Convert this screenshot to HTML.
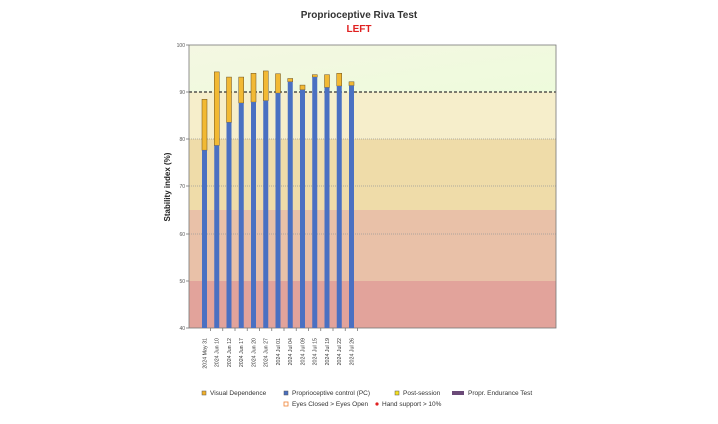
<!DOCTYPE html>
<html><head><meta charset="utf-8"><style>
body{margin:0;background:#fff;width:718px;height:419px;overflow:hidden;font-family:"Liberation Sans",sans-serif;}
</style></head><body>
<svg width="718" height="419" viewBox="0 0 718 419" xmlns="http://www.w3.org/2000/svg" font-family="Liberation Sans, sans-serif">
<defs>
<linearGradient id="g1" x1="0" y1="0" x2="1" y2="1"><stop offset="0" stop-color="#f4f7e2"/><stop offset="1" stop-color="#eefbdc"/></linearGradient>
</defs>
<text x="359" y="18" text-anchor="middle" font-size="10" font-weight="bold" fill="#333">Proprioceptive Riva Test</text>
<text x="359" y="32" text-anchor="middle" font-size="10" font-weight="bold" fill="#e02020">LEFT</text>
<rect x="189" y="45" width="367" height="47" fill="url(#g1)"/>
<rect x="189" y="92" width="367" height="47" fill="#f6eecb"/>
<rect x="189" y="139" width="367" height="71" fill="#efdca9"/>
<rect x="189" y="210" width="367" height="71" fill="#e9c1a8"/>
<rect x="189" y="281" width="367" height="47" fill="#e2a39b"/>
<g stroke="#999" stroke-width="0.8" stroke-dasharray="1,1">
<line x1="189" y1="139" x2="556" y2="139"/><line x1="189" y1="186" x2="556" y2="186"/><line x1="189" y1="234" x2="556" y2="234"/>
</g>
<line x1="189" y1="92" x2="556" y2="92" stroke="#333" stroke-width="1.2" stroke-dasharray="3,2"/>
<rect x="189" y="45" width="367" height="283" fill="none" stroke="#777" stroke-width="0.8"/>
<g font-size="5" fill="#555" text-anchor="end">
<text x="185" y="47">100</text><text x="185" y="94">90</text><text x="185" y="141">80</text><text x="185" y="188">70</text><text x="185" y="236">60</text><text x="185" y="283">50</text><text x="185" y="330">40</text>
</g>
<g stroke="#777" stroke-width="0.8">
<line x1="186" y1="45" x2="189" y2="45"/><line x1="186" y1="92" x2="189" y2="92"/><line x1="186" y1="139" x2="189" y2="139"/><line x1="186" y1="186" x2="189" y2="186"/><line x1="186" y1="234" x2="189" y2="234"/><line x1="186" y1="281" x2="189" y2="281"/><line x1="186" y1="328" x2="189" y2="328"/>
</g>
<text transform="translate(170,187) rotate(-90)" text-anchor="middle" font-size="8" font-weight="bold" fill="#222">Stability index (%)</text>
<g id="bars"></g>
<g id="labels" font-size="5.3" fill="#333" text-anchor="end"></g>
<g font-size="6.5" fill="#333">
<rect x="202" y="391" width="4" height="4" fill="#f2b02a" stroke="#555" stroke-width="0.5"/><text x="210" y="395">Visual Dependence</text>
<rect x="284" y="391" width="4" height="4" fill="#4a6fc0" stroke="#555" stroke-width="0.5"/><text x="292" y="395">Proprioceptive control (PC)</text>
<rect x="395" y="391" width="4" height="4" fill="#f5e020" stroke="#555" stroke-width="0.5"/><text x="403" y="395">Post-session</text>
<rect x="452" y="391" width="12" height="4" fill="#6b4a78"/><text x="468" y="395">Propr. Endurance Test</text>
<rect x="284" y="402" width="4" height="4" fill="#fff" stroke="#f08030" stroke-width="0.8"/><text x="292" y="406">Eyes Closed &gt; Eyes Open</text>
<circle cx="377" cy="404" r="1.6" fill="#e02020"/><text x="382" y="406">Hand support &gt; 10%</text>
</g>
</svg>
<script>
var t=[88.5,94.3,93.2,93.2,94,94.5,93.9,92.9,91.5,93.7,93.7,94,92.2];
var b=[77.7,78.7,83.6,87.7,87.9,88.2,89.8,92.2,90.5,93.2,91,91.3,91.4];
var d=["2024 May 31","2024 Jun 10","2024 Jun 12","2024 Jun 17","2024 Jun 20","2024 Jun 27","2024 Jul 01","2024 Jul 04","2024 Jul 09","2024 Jul 15","2024 Jul 19","2024 Jul 22","2024 Jul 26"];
function y(v){return 45+(100-v)*4.717;}
var s="",l="";
for(var i=0;i<13;i++){var cx=204.5+i*12.25;
s+='<rect x="'+(cx-2.5)+'" y="'+y(t[i])+'" width="5" height="'+(y(b[i])-y(t[i]))+'" fill="#f2b934" stroke="#6a5020" stroke-width="0.5"/>';
s+='<rect x="'+(cx-2.5)+'" y="'+y(b[i])+'" width="5" height="'+(328-y(b[i]))+'" fill="#4a70c2"/>';
s+='<line x1="'+(cx+6)+'" y1="328" x2="'+(cx+6)+'" y2="331" stroke="#777" stroke-width="0.8"/>';
l+='<text transform="translate('+(cx+1.8)+',338) rotate(-90)">'+d[i]+'</text>';}
document.getElementById("bars").innerHTML=s;document.getElementById("labels").innerHTML=l;
</script>
</body></html>
